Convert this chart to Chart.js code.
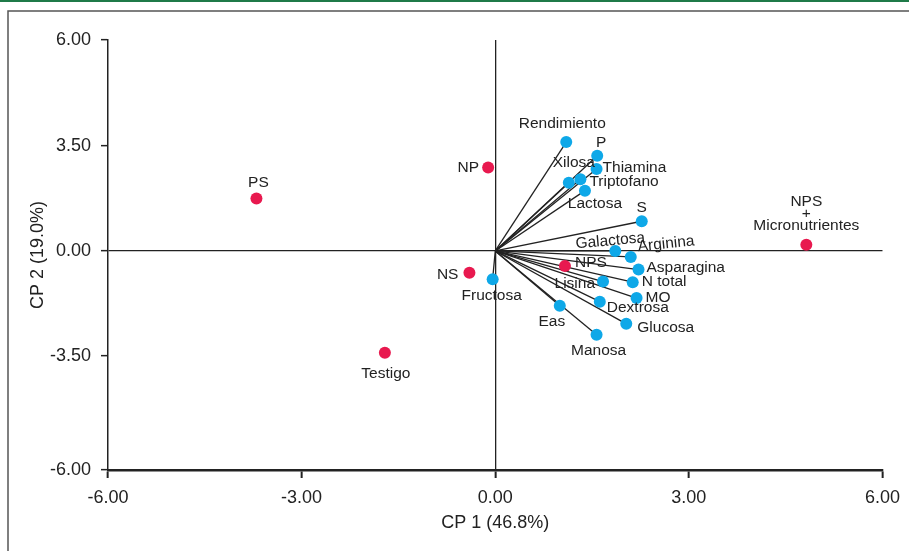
<!DOCTYPE html>
<html>
<head>
<meta charset="utf-8">
<script src="https://cdn.jsdelivr.net/npm/chart.js@4.4.0/dist/chart.umd.min.js"></script>
<style>
    html, body { margin: 0; padding: 0; background: #fff; }
    #wrap { position: relative; width: 909px; height: 551px; }
</style>
</head>
<body>
<div id="wrap"><canvas id="biplot"></canvas></div>
<script>
// Tratamientos (puntos rojos)
const treatmentNames = ['PS', 'NP', 'NS', 'Testigo', 'NPS', 'NPS\n+\nMicronutrientes'];
const treatmentX = [-3.70, -0.11, -0.40, -1.71, 1.08, 4.82];
const treatmentY = [1.75, 2.78, -0.73, -3.39, -0.50, 0.21];

// Variables (vectores azules)
const variableNames = ['Rendimiento', 'P', 'Thiamina', 'Xilosa', 'Triptofano', 'Lactosa', 'S',
    'Galactosa', 'Arginina', 'Asparagina', 'N total', 'MO', 'Lisina', 'Dextrosa',
    'Glucosa', 'Eas', 'Manosa', 'Fructosa'];
const variableX = [1.10, 1.58, 1.57, 1.14, 1.32, 1.39, 2.27,
    1.86, 2.10, 2.22, 2.13, 2.19, 1.67, 1.62,
    2.03, 1.00, 1.57, -0.04];
const variableY = [3.63, 3.17, 2.73, 2.27, 2.39, 2.01, 0.99,
    0.00, -0.20, -0.62, -1.04, -1.57, -1.02, -1.69,
    -2.43, -1.83, -2.79, -0.94];

// Ejes
const xTickValues = [-6, -3, 0, 3, 6];
const yTickValues = [-7.3, -3.5, 0, 3.5, 7.03];
const yTickLabels = ['-6.00', '-3.50', '0.00', '3.50', '6.00'];
const xAxisTitle = 'CP 1 (46.8%)';
const yAxisTitle = 'CP 2 (19.0%)';

// Colocacion de etiquetas respecto al punto: [dx, dy, align, rotacion]
const labelPlacement = {
    'PS': [2, -16, 'center', 0],
    'NP': [-9, 0, 'right', 0],
    'NS': [-11, 2, 'right', 0],
    'Testigo': [1, 21, 'center', 0],
    'NPS': [10, -3, 'left', 0],
    'NPS\n+\nMicronutrientes': [0, -43, 'center', 0],
    'Rendimiento': [-4, -18, 'center', 0],
    'P': [4, -13, 'center', 0],
    'Thiamina': [6, -1, 'left', 0],
    'Xilosa': [5, -20, 'center', 0],
    'Triptofano': [9, 2, 'left', 0],
    'Lactosa': [10, 13, 'center', 0],
    'S': [0, -14, 'center', 0],
    'Galactosa': [-5, -10, 'center', -5],
    'Arginina': [7, -10, 'left', -6],
    'Asparagina': [8, -2, 'left', 0],
    'N total': [9, 0, 'left', 0],
    'MO': [9, 0, 'left', 0],
    'Lisina': [-8, 2, 'right', 0],
    'Dextrosa': [7, 6, 'left', 0],
    'Glucosa': [11, 4, 'left', 0],
    'Eas': [-8, 16, 'center', 0],
    'Manosa': [2, 16, 'center', 0],
    'Fructosa': [-1, 17, 'center', 0]
};

const FONT = "'Liberation Sans', Arial, sans-serif";
const TXT = '#222';
const RED = '#e8194f';
const BLUE = '#0ea8e8';

// marco de la figura (linea verde + borde gris)
const framePlugin = {
    id: 'frame',
    beforeDraw(chart) {
        const ctx = chart.ctx;
        ctx.save();
        ctx.fillStyle = '#fff';
        ctx.fillRect(0, 0, chart.width, chart.height);
        ctx.fillStyle = '#1f7a48';
        ctx.fillRect(0, 0, chart.width, 2);
        ctx.strokeStyle = '#555';
        ctx.lineWidth = 1.5;
        ctx.beginPath();
        ctx.moveTo(chart.width, 11);
        ctx.lineTo(8, 11);
        ctx.lineTo(8, chart.height);
        ctx.stroke();
        ctx.restore();
    }
};

// nombres junto a los puntos
const labelsPlugin = {
    id: 'pointLabels',
    afterDatasetsDraw(chart) {
        const ctx = chart.ctx;
        const xs = chart.scales.x, ys = chart.scales.y;
        const all = treatmentNames.map((n, i) => [n, treatmentX[i], treatmentY[i]])
            .concat(variableNames.map((n, i) => [n, variableX[i], variableY[i]]));
        ctx.save();
        ctx.fillStyle = TXT;
        ctx.font = '15.5px ' + FONT;
        ctx.textBaseline = 'middle';
        all.forEach(([name, vx, vy]) => {
            const p = labelPlacement[name] || [0, -14, 'center', 0];
            const px = xs.getPixelForValue(vx) + p[0];
            const py = ys.getPixelForValue(vy) + p[1];
            ctx.save();
            ctx.translate(px, py);
            ctx.rotate(p[3] * Math.PI / 180);
            ctx.textAlign = p[2];
            name.split('\n').forEach((line, k) => ctx.fillText(line, 0, k * 12));
            ctx.restore();
        });
        ctx.restore();
    }
};

const datasets = [];
variableNames.forEach((name, i) => {
    datasets.push({
        label: name,
        data: [{ x: 0, y: 0 }, { x: variableX[i], y: variableY[i] }],
        showLine: true,
        borderColor: '#222',
        borderWidth: 1.3,
        pointRadius: 0,
        order: 3
    });
});
datasets.push({
    label: 'Variables',
    data: variableX.map((x, i) => ({ x: x, y: variableY[i] })),
    backgroundColor: BLUE,
    borderWidth: 0,
    pointRadius: 6,
    order: 2
});
datasets.push({
    label: 'Tratamientos',
    data: treatmentX.map((x, i) => ({ x: x, y: treatmentY[i] })),
    backgroundColor: RED,
    borderWidth: 0,
    pointRadius: 6,
    order: 1
});

const zeroLine = (c) => (c.tick && c.tick.value === 0) ? '#222' : 'rgba(0,0,0,0)';

new Chart(document.getElementById('biplot'), {
    type: 'scatter',
    data: { datasets: datasets },
    options: {
        responsive: true,
        maintainAspectRatio: false,
        animation: false,
        layout: { padding: { top: 40, right: 25, left: 10, bottom: 0 } },
        plugins: { legend: { display: false }, tooltip: { enabled: false } },
        scales: {
            x: {
                type: 'linear',
                min: -6,
                max: 6,
                afterBuildTicks: (s) => { s.ticks = xTickValues.map(v => ({ value: v })); },
                afterFit: (s) => { s.height = 81; },
                ticks: {
                    callback: (v) => Number(v).toFixed(2),
                    font: { family: FONT, size: 18 },
                    color: TXT,
                    padding: 9,
                    maxRotation: 0
                },
                grid: { color: zeroLine, lineWidth: 1.3, tickColor: TXT, tickLength: 8, tickWidth: 2 },
                border: { display: true, color: TXT, width: 2.5 },
                title: {
                    display: true,
                    text: xAxisTitle,
                    font: { family: FONT, size: 18 },
                    color: TXT,
                    padding: { top: 0, bottom: 17 }
                }
            },
            y: {
                type: 'linear',
                min: -7.3,
                max: 7.03,
                afterBuildTicks: (s) => { s.ticks = yTickValues.map(v => ({ value: v })); },
                afterFit: (s) => { s.width = 98; },
                ticks: {
                    callback: (v, i) => yTickLabels[i],
                    font: { family: FONT, size: 18 },
                    color: TXT,
                    padding: 10
                },
                grid: { color: zeroLine, lineWidth: 1.3, tickColor: TXT, tickLength: 7, tickWidth: 1.5 },
                border: { display: true, color: TXT, width: 1.5 },
                title: {
                    display: true,
                    text: yAxisTitle,
                    font: { family: FONT, size: 18 },
                    color: TXT,
                    padding: { top: 17, bottom: 0 }
                }
            }
        }
    },
    plugins: [framePlugin, labelsPlugin]
});
</script>
</body>
</html>
